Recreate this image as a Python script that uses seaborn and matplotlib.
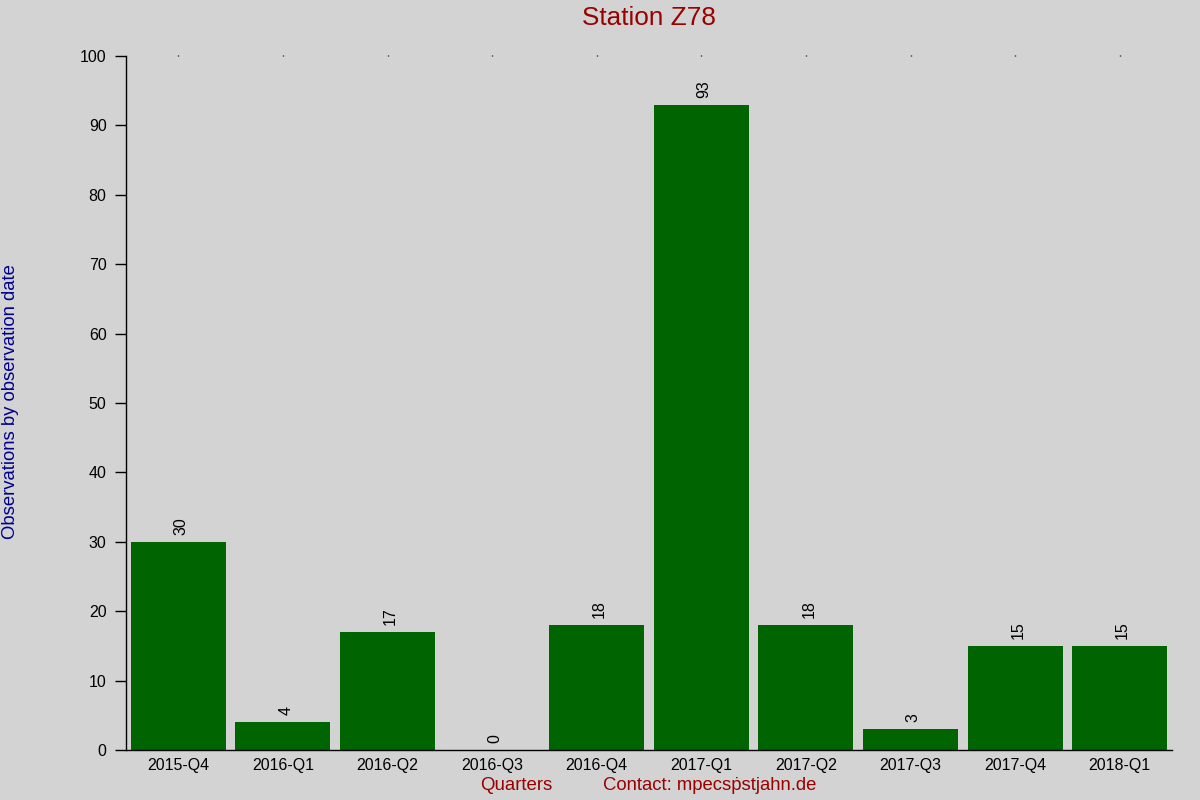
import matplotlib
matplotlib.use("Agg")
import matplotlib.pyplot as plt
import seaborn as sns
import pandas as pd

quarters = ["2015-Q4", "2016-Q1", "2016-Q2", "2016-Q3", "2016-Q4",
            "2017-Q1", "2017-Q2", "2017-Q3", "2017-Q4", "2018-Q1"]
counts = [30, 4, 17, 0, 18, 93, 18, 3, 15, 15]
y_ticks = [0, 10, 20, 30, 40, 50, 60, 70, 80, 90, 100]

sns.set_style("white")
plt.rcParams["font.family"] = ["Liberation Sans", "DejaVu Sans"]

bg = "#d3d3d3"
fig = plt.figure(figsize=(12, 8), dpi=100, facecolor=bg)
ax = fig.add_axes([126/1200, 1-750/800, (1172-126)/1200, (750-56)/800])
ax.set_facecolor(bg)

df = pd.DataFrame({"quarter": quarters, "count": counts})
sns.barplot(data=df, x="quarter", y="count", color="#006400", saturation=1,
            width=0.91, edgecolor="none", linewidth=0, ax=ax)

for i, v in enumerate(counts):
    ax.text(i + 0.028, v + 1.0, str(v), rotation=90, ha="center", va="bottom",
            fontsize=11.5, color="black")

ax.set_xlim(-0.5, 9.5)
ax.set_ylim(0, 100)
ax.set_yticks(y_ticks)
ax.set_yticklabels([str(t) for t in y_ticks], fontsize=11.5)
ax.tick_params(axis="y", left=True, length=8, width=1, color="black", pad=6,
               labelcolor="black", direction="out")
ax.tick_params(axis="x", bottom=False, top=True, length=1, width=1, labelsize=11.5,
               labelcolor="black", pad=5, color="black")
ax.set_xlabel("")
ax.set_ylabel("")
for s in ["top", "right"]:
    ax.spines[s].set_visible(False)
for s in ["left", "bottom"]:
    ax.spines[s].set_visible(True)
    ax.spines[s].set_color("black")
    ax.spines[s].set_linewidth(1)

fig.text(649/1200, 1-18/800, "Station Z78", ha="center", va="center",
         fontsize=18.8, color="#990000")
fig.text(516/1200, 1-786/800, "Quarters", ha="center", va="center",
         fontsize=13.4, color="#990000")
fig.text(710/1200, 1-786/800, "Contact: mpecsṗstjahn.de", ha="center", va="center",
         fontsize=13.3, color="#990000")
fig.text(11/1200, 1-402/800, "Observations by observation date", rotation=90,
         ha="center", va="center", fontsize=13.3, color="#00008b")

fig.savefig("out.png", dpi=100, facecolor=bg)
